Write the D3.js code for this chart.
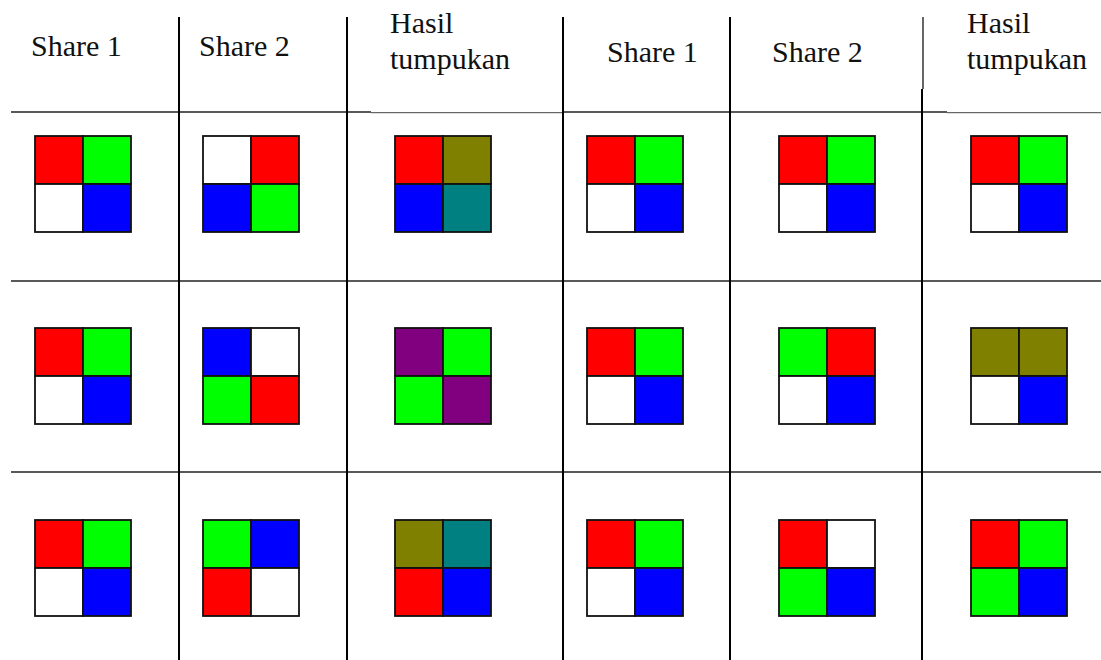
<!DOCTYPE html>
<html>
<head>
<meta charset="utf-8">
<script src="https://cdn.jsdelivr.net/npm/d3@7"></script>
<style>
html,body{margin:0;padding:0;background:#fff;}
svg{display:block;}
svg text{font-family:"Liberation Serif";}
</style>
</head>
<body>
<svg id="chart" width="1101" height="660" font-family="Liberation Serif"></svg>
<script>
// ---- data ----
const headers = [["Share 1"],["Share 2"],["Hasil","tumpukan"],["Share 1"],["Share 2"],["Hasil","tumpukan"]];
const palette = {R:"#ff0000",G:"#00ff00",B:"#0000ff",W:"#ffffff",O:"#808000",T:"#008080",P:"#800080"};
// each cell: [top-left, top-right, bottom-left, bottom-right]
const row1 = ["RGWB","WRBG","ROBT","RGWB","RGWB","RGWB"];
const row2 = ["RGWB","BWGR","PGGP","RGWB","GRWB","OOWB"];
const row3 = ["RGWB","GBRW","OTRB","RGWB","RWGB","RGGB"];
const rows = [row1,row2,row3];

// ---- layout ----
const svg = d3.select("#chart");
const W = 1101, H = 660;
const colIdx = d3.range(headers.length);
const colLeft = d3.scaleOrdinal().domain(colIdx).range([11,179,347,563,730,922]);
const sqX = d3.scaleOrdinal().domain(colIdx).range([35,203,395,587,779,971]);
const sqY = d3.scaleLinear().domain([0,1]).range([136,328]);
const quad = d3.scaleBand().domain([0,1]).range([0,96]);
const lineY = d3.scaleOrdinal().domain([0,1,2]).range([112,281,472]);
const textX = d3.scaleOrdinal().domain(colIdx).range([31,199,390,607,772,967]);

// header text
headers.forEach((lines,i)=>{
  const ys = lines.length===1 ? [(i===3||i===4)?62:56] : [33,69];
  lines.forEach((l,k)=>{
    svg.append("text").attr("x",textX(i)).attr("y",ys[k])
      .attr("font-family","Liberation Serif")
      .style("font-family",'"Liberation Serif"')
      .attr("font-size",30).attr("fill","#111").text(l);
  });
});

// squares
rows.forEach((row,r)=>{
  row.forEach((cell,c)=>{
    const cg = svg.append("g").attr("transform",`translate(${sqX(c)},${sqY(r)})`);
    cell.split("").forEach((ch,q)=>{
      cg.append("rect")
        .attr("x",quad(q%2)).attr("y",quad(Math.floor(q/2)))
        .attr("width",quad.bandwidth()).attr("height",quad.bandwidth())
        .attr("fill",palette[ch]).attr("stroke","#111").attr("stroke-width",1.8);
    });
  });
});

// horizontal lines
[0,1,2].forEach(r=>{
  svg.append("line").attr("x1",11).attr("x2",W).attr("y1",lineY(r)).attr("y2",lineY(r))
    .attr("stroke","#222").attr("stroke-width",1.6);
});
// thinner segments in header underline under "Hasil tumpukan"
[[371,563],[947,W]].forEach(([a,b])=>{
  svg.append("rect").attr("x",a).attr("y",110).attr("width",b-a).attr("height",4).attr("fill","#fff");
  svg.append("line").attr("x1",a).attr("x2",b).attr("y1",112.7).attr("y2",112.7)
    .attr("stroke","#444").attr("stroke-width",1);
});

// vertical lines
colIdx.slice(1).forEach(i=>{
  const x = colLeft(i);
  if(i===5){
    svg.append("line").attr("x1",x+1).attr("x2",x+1).attr("y1",17).attr("y2",89)
      .attr("stroke","#000").attr("stroke-width",1.2);
    svg.append("line").attr("x1",x).attr("x2",x).attr("y1",89).attr("y2",H)
      .attr("stroke","#000").attr("stroke-width",2);
  } else {
    svg.append("line").attr("x1",x).attr("x2",x).attr("y1",17).attr("y2",H)
      .attr("stroke","#000").attr("stroke-width",2);
  }
});
</script>
</body>
</html>
